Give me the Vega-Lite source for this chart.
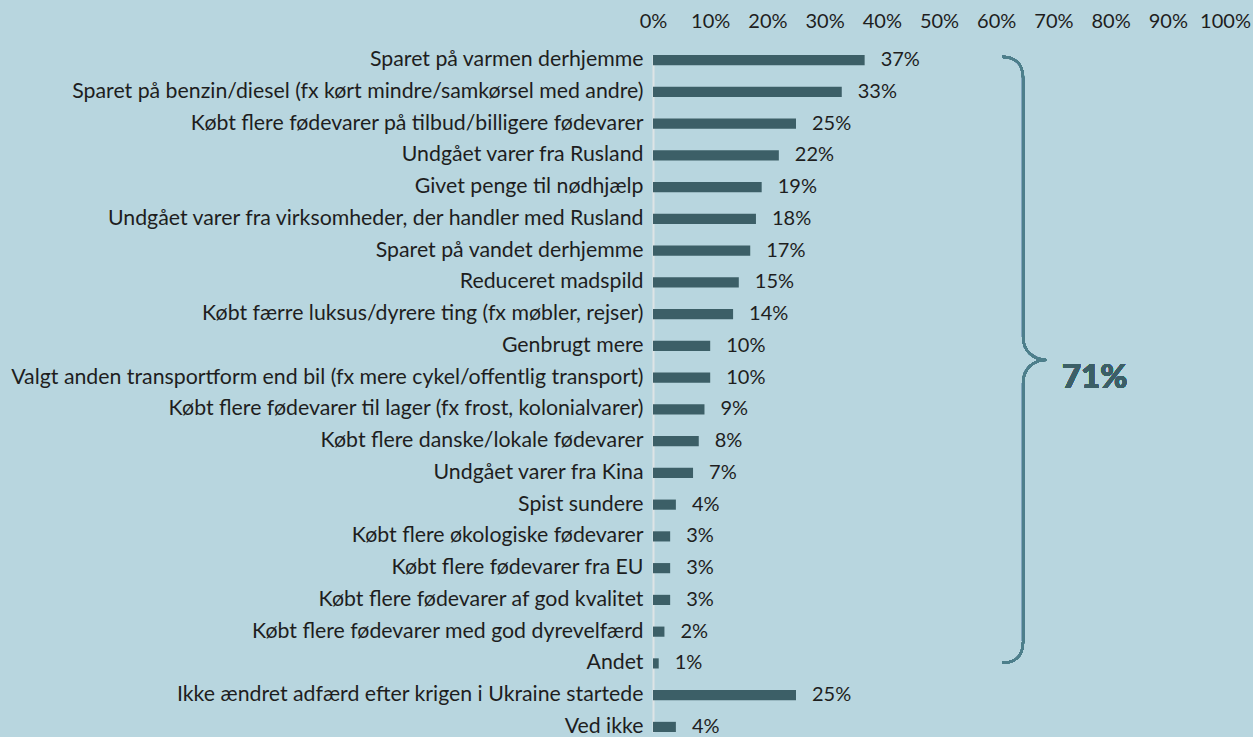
{
  "$schema": "https://vega.github.io/schema/vega-lite/v6.json",
  "autosize": "none",
  "width": 572,
  "height": 677,
  "padding": {"left": 653, "top": 55, "right": 28, "bottom": 5},
  "background": "#b8d6df",
  "config": {
    "view": {"stroke": null},
    "font": "Lato"
  },
  "data": {
    "values": [
      {"label": "Sparet på varmen derhjemme", "value": 0.37},
      {"label": "Sparet på benzin/diesel (fx kørt mindre/samkørsel med andre)", "value": 0.33},
      {"label": "Købt flere fødevarer på tilbud/billigere fødevarer", "value": 0.25},
      {"label": "Undgået varer fra Rusland", "value": 0.22},
      {"label": "Givet penge til nødhjælp", "value": 0.19},
      {"label": "Undgået varer fra virksomheder, der handler med Rusland", "value": 0.18},
      {"label": "Sparet på vandet derhjemme", "value": 0.17},
      {"label": "Reduceret madspild", "value": 0.15},
      {"label": "Købt færre luksus/dyrere ting (fx møbler, rejser)", "value": 0.14},
      {"label": "Genbrugt mere", "value": 0.10},
      {"label": "Valgt anden transportform end bil (fx mere cykel/offentlig transport)", "value": 0.10},
      {"label": "Købt flere fødevarer til lager (fx frost, kolonialvarer)", "value": 0.09},
      {"label": "Købt flere danske/lokale fødevarer", "value": 0.08},
      {"label": "Undgået varer fra Kina", "value": 0.07},
      {"label": "Spist sundere", "value": 0.04},
      {"label": "Købt flere økologiske fødevarer", "value": 0.03},
      {"label": "Købt flere fødevarer fra EU", "value": 0.03},
      {"label": "Købt flere fødevarer af god kvalitet", "value": 0.03},
      {"label": "Købt flere fødevarer med god dyrevelfærd", "value": 0.02},
      {"label": "Andet", "value": 0.01},
      {"label": "Ikke ændret adfærd efter krigen i Ukraine startede", "value": 0.25},
      {"label": "Ved ikke", "value": 0.04}
    ]
  },
  "encoding": {
    "y": {
      "field": "label",
      "type": "nominal",
      "sort": null,
      "scale": {"paddingInner": 0.68, "paddingOuter": 0, "align": 1},
      "axis": {
        "title": null,
        "ticks": false,
        "domain": true,
        "domainColor": "#dde4e6",
        "domainWidth": 2,
        "labelPadding": 10,
        "labelLimit": 0,
        "labelFontSize": 21.3,
        "labelColor": "#1e1e1e"
      }
    }
  },
  "layer": [
    {
      "mark": {"type": "bar", "color": "#3c5f67"},
      "encoding": {
        "x": {
          "field": "value",
          "type": "quantitative",
          "scale": {"domain": [0, 1], "nice": false},
          "axis": {
            "orient": "top",
            "title": null,
            "grid": false,
            "domain": false,
            "ticks": false,
            "values": [0, 0.1, 0.2, 0.3, 0.4, 0.5, 0.6, 0.7, 0.8, 0.9, 1],
            "format": ".0%",
            "labelFontSize": 20,
            "labelColor": "#1e1e1e",
            "labelPadding": 24,
            "labelFlush": false,
            "labelOverlap": false
          }
        }
      }
    },
    {
      "mark": {"type": "text", "align": "left", "dx": 16, "fontSize": 20, "color": "#1e1e1e"},
      "encoding": {
        "x": {"field": "value", "type": "quantitative"},
        "text": {"field": "value", "type": "quantitative", "format": ".0%"}
      }
    },
    {
      "mark": {
        "type": "point",
        "shape": "M-0.069,-1 C-0.03,-1 0,-0.98 0,-0.93 L0,-0.075 C0,-0.03 0.035,0 0.076,0 C0.035,0 0,0.03 0,0.075 L0,0.93 C0,0.98 -0.03,1 -0.069,1",
        "filled": false,
        "size": 367236,
        "stroke": "#4d7f8b",
        "strokeWidth": 2.2,
        "opacity": 1,
        "yOffset": 14
      },
      "encoding": {
        "x": {"datum": 0.647},
        "y": {"datum": "Genbrugt mere"}
      }
    },
    {
      "mark": {"type": "text", "align": "left", "fontSize": 33, "fontWeight": 900, "color": "#3c5f67", "text": "71%"},
      "encoding": {
        "x": {"datum": 0.715},
        "y": {"datum": "Valgt anden transportform end bil (fx mere cykel/offentlig transport)"}
      }
    }
  ]
}
